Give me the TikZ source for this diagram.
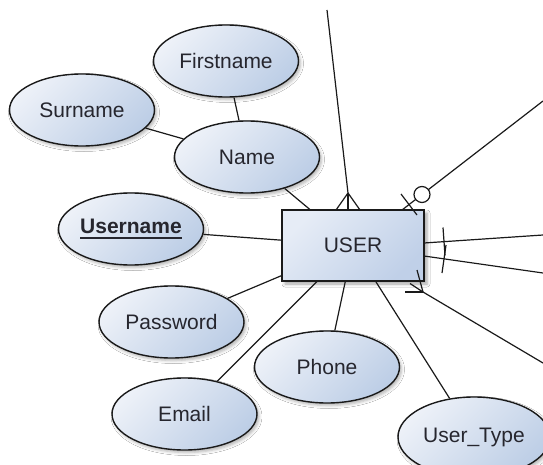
\documentclass[tikz,border=0pt]{standalone}
\usepackage{fontspec}
\setmainfont{Liberation Sans}
\usetikzlibrary{shapes.geometric,shadows.blur}

\definecolor{attrlight}{HTML}{EDF1F8}
\definecolor{attrdark}{HTML}{BDCEE6}
\definecolor{entlight}{HTML}{E6ECF6}
\definecolor{entdark}{HTML}{C0D0E8}
\definecolor{inktext}{HTML}{26262E}
\definecolor{inkline}{HTML}{1A1A1A}

% key attribute: bold text with a heavy rule below it
\newcommand\keyattr[1]{\setbox0=\hbox{\bfseries #1}\rlap{\rule[-5pt]{\wd0}{1.9pt}}\box0}

\begin{document}
\begin{tikzpicture}[x=1pt,y=-1pt,
  attr/.style={ellipse, draw=inkline, line width=1.4pt,
    minimum width=145pt, minimum height=72pt, inner sep=0pt,
    top color=attrlight, bottom color=attrdark, shading angle=45,
    text=inktext, font=\fontsize{21}{25}\selectfont,
    blur shadow={shadow xshift=2pt, shadow yshift=-2.5pt,
      shadow opacity=30, shadow blur radius=3pt}},
  entity/.style={rectangle, draw=inkline, line width=1.5pt,
    minimum width=142pt, minimum height=71pt, inner sep=0pt,
    top color=entlight, bottom color=entdark, shading angle=45,
    text=inktext, font=\fontsize{21}{25}\selectfont,
    blur shadow={shadow xshift=3pt, shadow yshift=-3pt,
      shadow opacity=35, shadow blur radius=3pt}},
  link/.style={draw=inkline, line width=1.2pt},
  endmark/.style={draw=inkline, line width=1.2pt}
]
\useasboundingbox (0,0) rectangle (543,465);
\fill[white] (0,0) rectangle (543,465);

% attributes
\node[attr] (first) at (226,61) {Firstname};
\node[attr] (sur)   at (82,110) {Surname};
\node[attr] (name)  at (247,157) {Name};
\node[attr] (uname) at (131,229) {\keyattr{Username}};
\node[attr] (pass)  at (171.5,322) {Password};
\node[attr] (mail)  at (184.5,414) {Email};
\node[attr] (phone) at (327,367) {Phone};
\node[attr, minimum width=152pt, minimum height=80pt] (utype) at (474,437) {User\_Type};

% entity
\node[entity] (user) at (353,245.5) {USER};

% attribute links
\draw[link] (first) -- (name);
\draw[link] (sur) -- (name);
\draw[link] (name) -- (user);
\draw[link] (uname) -- (user);
\draw[link] (pass) -- (user);
\draw[link] (mail) -- (user);
\draw[link] (phone) -- (user);
\draw[link] (utype) -- (user);

% relationship ends leading off the sheet
\coordinate (topfar) at (327,10);
\coordinate (topfoot) at (348,193);
\coordinate (nefar) at (543,101);
\coordinate (nenear) at (402,210);
\coordinate (ering) at (422,194.5);
\coordinate (r1far) at (543,235);
\coordinate (r1near) at (424,243);
\coordinate (r2far) at (543,273);
\coordinate (r2near) at (424,256);
\coordinate (sefar) at (543,363);
\coordinate (sefoot) at (423,292);

% many (crow's foot) at the top
\draw[link] (topfar) -- (topfoot);
\draw[endmark] (topfoot) -- ++(-12,17);
\draw[endmark] (topfoot) -- ++(0,17);
\draw[endmark] (topfoot) -- ++(12,17);

% zero-or-one at the top right
\draw[link] (nefar) -- (nenear);
\draw[endmark] (401,194) -- (417,215);
\draw[endmark, fill=white] (ering) circle (8);

% one and only one on the right
\draw[link] (r1far) -- (r1near);
\draw[link] (r2far) -- (r2near);
\draw[endmark] (443,227.5) -- (445,255.5);
\draw[endmark] (446,245) -- (442,273);

% many (crow's foot) at the bottom right
\draw[link] (sefar) -- (sefoot);
\draw[endmark] (sefoot) -- (417,270);
\draw[endmark] (sefoot) -- (410,283.5);
\draw[endmark] (sefoot) -- (405,292);
\end{tikzpicture}
\end{document}
